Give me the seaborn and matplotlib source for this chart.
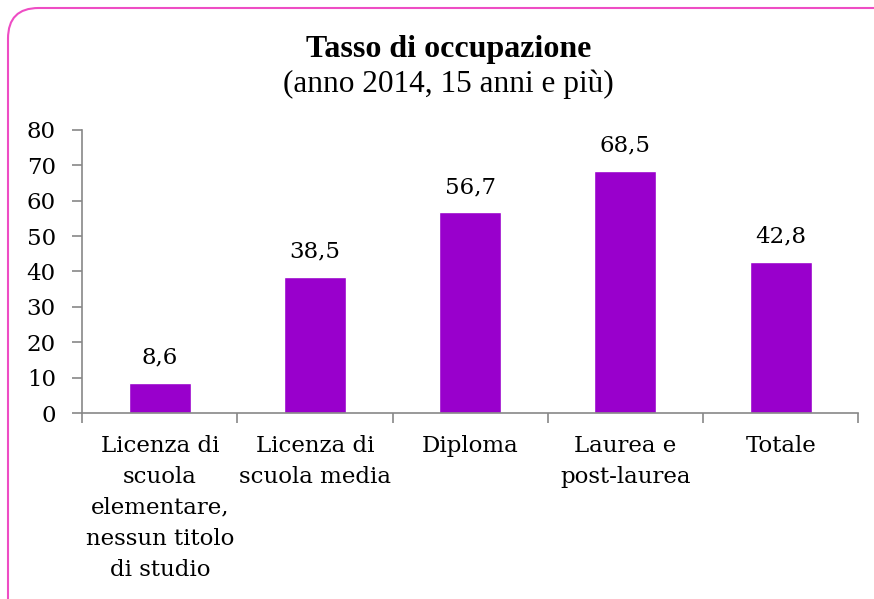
import matplotlib
matplotlib.use("Agg")
import matplotlib.pyplot as plt
import seaborn as sns
import pandas as pd
from matplotlib.patches import FancyBboxPatch

# Dati
categorie = [
    "Licenza di\nscuola\nelementare,\nnessun titolo\ndi studio",
    "Licenza di\nscuola media",
    "Diploma",
    "Laurea e\npost-laurea",
    "Totale",
]
valori = [8.6, 38.5, 56.7, 68.5, 42.8]
etichette = ["8,6", "38,5", "56,7", "68,5", "42,8"]
yticks = [0, 10, 20, 30, 40, 50, 60, 70, 80]

sns.set_style("white")
plt.rcParams["font.family"] = ["DejaVu Serif"]
plt.rcParams["text.color"] = "black"
plt.rcParams["xtick.color"] = "black"
plt.rcParams["ytick.color"] = "black"

df = pd.DataFrame({"cat": categorie, "val": valori})

fig = plt.figure(figsize=(8.74, 5.99), dpi=100)
ax = fig.add_axes([0.094, 0.3105, 0.888, 0.4725])

sns.barplot(data=df, x="cat", y="val", color="#9900CC", width=0.4,
            saturation=1, ax=ax)

for i, (v, t) in enumerate(zip(valori, etichette)):
    ax.text(i, v + 4, t, ha="center", va="bottom", fontsize=16.5)

ax.set_ylim(0, 80)
ax.set_xlim(-0.5, 4.5)
ax.set_yticks(yticks)
ax.set_yticklabels([str(v) for v in yticks], fontsize=16.5)
ax.set_xlabel("")
ax.set_ylabel("")

# tick sulle separazioni tra categorie
ax.set_xticks([-0.5, 0.5, 1.5, 2.5, 3.5, 4.5], minor=True)
ax.tick_params(axis="x", which="major", length=0, pad=16, labelsize=16.5)
ax.tick_params(axis="x", which="minor", length=7, color="#878787", width=1.2, direction="out", bottom=True)
ax.tick_params(axis="y", length=7, color="#878787", labelcolor="black", width=1.2, direction="out", left=True, pad=12)
for lab in ax.get_xticklabels():
    lab.set_linespacing(1.52)

for s in ["top", "right"]:
    ax.spines[s].set_visible(False)
for s in ["left", "bottom"]:
    ax.spines[s].set_color("#878787")
    ax.spines[s].set_linewidth(1.2)

fig.text(0.513, 0.918, "Tasso di occupazione", ha="center", va="center",
         fontsize=23, fontweight="bold", family="Liberation Serif")
fig.text(0.513, 0.86, "(anno 2014, 15 anni e più)", ha="center", va="center",
         fontsize=22.5, family="Liberation Serif")

# cornice arrotondata
bordo = FancyBboxPatch((8 / 874, -0.2), 1.05, 1.2 - 8 / 599,
                       boxstyle="round,pad=0,rounding_size=0.035",
                       transform=fig.transFigure, fill=False,
                       edgecolor="#EE4DC4", linewidth=1.5, clip_on=False,
                       mutation_aspect=874 / 599)
fig.patches.append(bordo)

fig.savefig("out.png", dpi=100)
